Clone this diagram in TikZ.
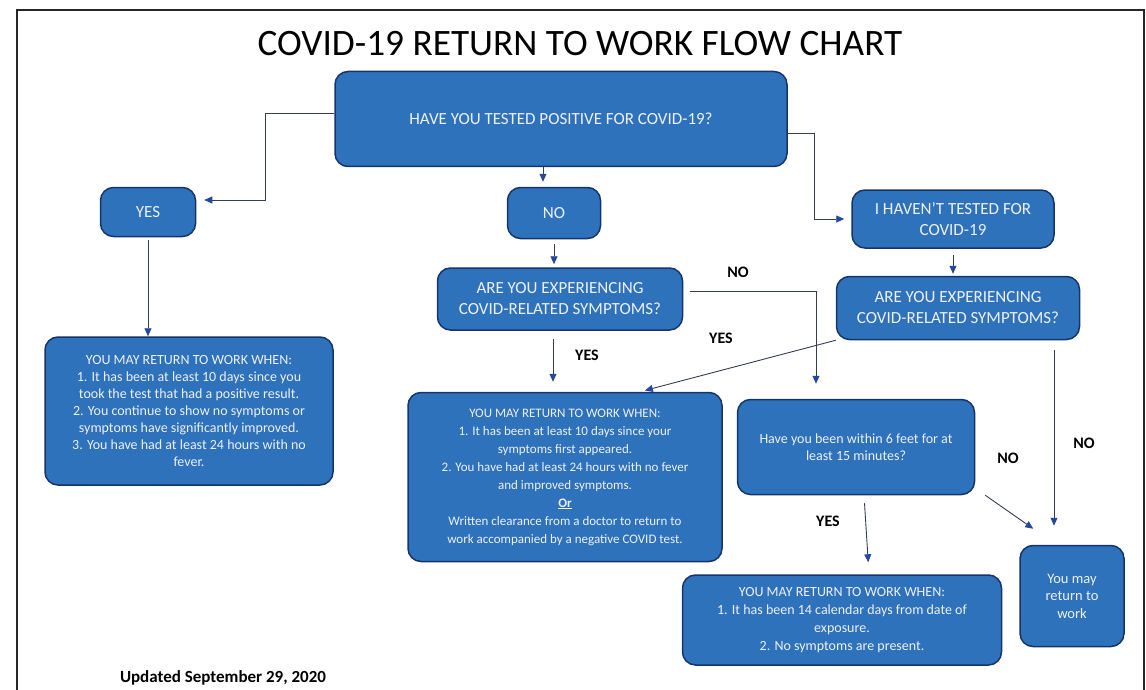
\documentclass[tikz,border=0pt]{standalone}
\usepackage{fontspec}
\setmainfont{Carlito}
\usetikzlibrary{arrows.meta}
\definecolor{boxblue}{RGB}{46,114,188}
\definecolor{boxedge}{RGB}{22,52,108}
\definecolor{boxtext}{RGB}{238,240,246}
\definecolor{linegray}{RGB}{55,60,82}
\definecolor{tipblue}{RGB}{36,72,160}

\begin{document}
\begin{tikzpicture}[x=1pt, y=-1pt,
        every node/.style={draw=boxedge, line width=1.5pt, fill=boxblue, text=boxtext, rounded corners=13pt, align=center, inner sep=0pt, font=\fontsize{14}{17}\selectfont},
        ar/.style={-{Triangle[width=7pt,length=8pt,color=tipblue]}, line width=0.9pt, draw=linegray},
        big/.style={font=\fontsize{17}{21}\selectfont},
        invis/.style={draw=none, fill=none, text=black, font=\bfseries\fontsize{16}{18}\selectfont},
    ]
    \useasboundingbox (0,0) rectangle (1146,690);
    \draw[line width=1.6pt, black!85] (17,700) -- (17,10) -- (1144,10) -- (1144,700);

    \node[invis, font=\fontsize{37.3}{40}\selectfont](title) at (580,44) {COVID-19 RETURN TO WORK FLOW CHART};

    \node[minimum width=452pt, minimum height=95pt, font=\fontsize{17}{20}\selectfont](top) at (561,119) {HAVE YOU TESTED POSITIVE FOR COVID-19?};
    \node[minimum width=95pt, minimum height=49pt, big](yes) at (148,212) {YES};
    \node[minimum width=93pt, minimum height=51pt, big](no) at (554,213) {NO};
    \node[minimum width=202pt, minimum height=58pt, big](haven) at (953,219) {I HAVEN’T TESTED FOR\\COVID-19};
    \node[minimum width=245pt, minimum height=62pt, big](sym1) at (560,299) {ARE YOU EXPERIENCING\\COVID-RELATED SYMPTOMS?};
    \node[minimum width=243pt, minimum height=63pt, big](sym2) at (958,308) {ARE YOU EXPERIENCING\\COVID-RELATED SYMPTOMS?};
    \node[minimum width=288pt, minimum height=148pt](res1) at (189,411) {YOU MAY RETURN TO WORK WHEN:\\1. It has been at least 10 days since you\\took the test that had a positive result.\\2. You continue to show no symptoms or\\symptoms have significantly improved.\\3. You have had at least 24 hours with no\\fever.};
    \node[minimum width=314pt, minimum height=169pt, font=\fontsize{13}{18}\selectfont](res2) at (565,477) {YOU MAY RETURN TO WORK WHEN:\\1. It has been at least 10 days since your\\symptoms first appeared.\\2. You have had at least 24 hours with no fever\\and improved symptoms.\\\textbf{\underline{Or}}\\Written clearance from a doctor to return to\\work accompanied by a negative COVID test.};
    \node[minimum width=237pt, minimum height=95pt](feet) at (856,447) {Have you been within 6 feet for at\\least 15 minutes?};
    \node[minimum width=319pt, minimum height=90pt, font=\fontsize{14}{18}\selectfont](res3) at (842,620) {YOU MAY RETURN TO WORK WHEN:\\1. It has been 14 calendar days from date of\\exposure.\\2. No symptoms are present.};
    \node[minimum width=104pt, minimum height=101pt, font=\fontsize{14.5}{17.5}\selectfont](ret) at (1072,596) {You may\\return to\\work};

    \node[invis](no1) at (738,272) {NO};
    \node[invis](yes1) at (587,355) {YES};
    \node[invis](yes2) at (721,338) {YES};
    \node[invis](no2) at (1084,443) {NO};
    \node[invis](no3) at (1008,458) {NO};
    \node[invis](yes3) at (828,521) {YES};
    \node[invis, font=\bfseries\fontsize{17}{20}\selectfont](upd) at (223,678) {Updated September 29, 2020};

    \draw[ar, shorten >=8pt] ([yshift=6pt]top.west) -- ++(-69pt,0) |- ([yshift=12pt]yes.east);
    \draw[ar, shorten >=7pt] ([yshift=-14pt]top.east) -- ++(27pt,0) |- (haven.west);
    \draw[ar, shorten >=15pt] ([xshift=7pt,yshift=8pt]sym1.east) -| ([xshift=-40pt]feet.north);
    \path
    ([xshift=-18pt]top.south) edge[ar, shorten >=5pt] ([xshift=-18pt]top.south |- no.north)
    (yes.south) edge[ar, shorten <=3pt] (yes.south |- res1.north)
    (no.south) edge[ar, shorten <=5pt, shorten >=3pt] (no.south |- sym1.north)
    (haven.south) edge[ar, shorten <=6pt, shorten >=2pt] (haven.south |- sym2.north)
    ([xshift=-7pt]sym1.south) edge[ar, shorten <=8pt, shorten >=10pt] ([xshift=-7pt]sym1.south |- res2.north)
    (sym2.south west) edge[ar, shorten >=5pt] ([xshift=75pt]res2.north)
    ([xshift=-18pt]ret.north |- sym2.south) edge[ar, shorten <=10pt, shorten >=19pt] ([xshift=-18pt]ret.north)
    ([xshift=10pt]feet.south east) edge[ar] ([xshift=14pt,yshift=16pt]ret.north west)
    ([xshift=8pt]feet.south) edge[ar, shorten <=8pt, shorten >=12pt] ([xshift=27pt]res3.north)
    ;
    \end{tikzpicture}
\end{document}
